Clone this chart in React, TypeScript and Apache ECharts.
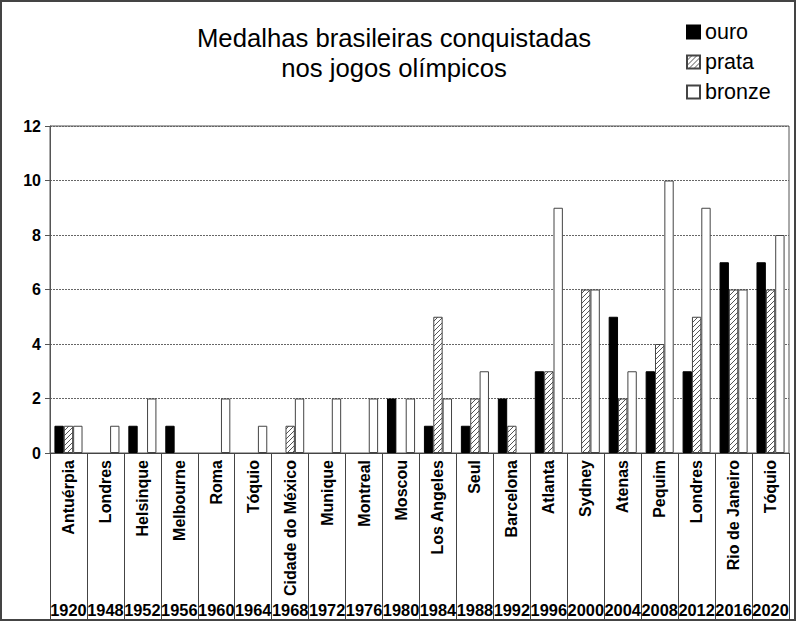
import React, { useEffect, useRef } from 'react';
import * as echarts from 'echarts';

const years = ['1920', '1948', '1952', '1956', '1960', '1964', '1968', '1972', '1976', '1980', '1984', '1988', '1992', '1996', '2000', '2004', '2008', '2012', '2016', '2020'];
const cities = ['Antuérpia', 'Londres', 'Helsinque', 'Melbourne', 'Roma', 'Tóquio', 'Cidade do México', 'Munique', 'Montreal', 'Moscou', 'Los Angeles', 'Seul', 'Barcelona', 'Atlanta', 'Sydney', 'Atenas', 'Pequim', 'Londres', 'Rio de Janeiro', 'Tóquio'];
const ouro = [1, 0, 1, 1, 0, 0, 0, 0, 0, 2, 1, 1, 2, 3, 0, 5, 3, 3, 7, 7];
const prata = [1, 0, 0, 0, 0, 0, 1, 0, 0, 0, 5, 2, 1, 3, 6, 2, 4, 5, 6, 6];
const bronze = [1, 1, 2, 0, 2, 1, 2, 2, 2, 2, 2, 3, 0, 9, 6, 3, 10, 9, 6, 8];
const titleText = 'Medalhas brasileiras conquistadas\nnos jogos olímpicos';

const FONT = "'Liberation Sans', Arial, sans-serif";

// zero-medal entries are not drawn as bars
const visible = (arr: number[]) => arr.map((v) => (v === 0 ? '-' : v));

function makeHatch(): HTMLCanvasElement {
  const c = document.createElement('canvas');
  c.width = 5;
  c.height = 5;
  const ctx = c.getContext('2d')!;
  ctx.fillStyle = '#ffffff';
  ctx.fillRect(0, 0, 5, 5);
  ctx.strokeStyle = '#555555';
  ctx.lineWidth = 1;
  for (const k of [-5, 0, 5]) {
    ctx.beginPath();
    ctx.moveTo(k, 5);
    ctx.lineTo(k + 5, 0);
    ctx.stroke();
  }
  return c;
}

export default function App() {
  const ref = useRef<HTMLDivElement>(null);
  useEffect(() => {
    if (!ref.current) return;
    const chart = echarts.init(ref.current, undefined, { renderer: 'svg' });
    const hatch = makeHatch();
    chart.setOption({
      animation: false,
      backgroundColor: '#ffffff',
      title: {
        text: titleText,
        left: 389,
        top: 18,
        textAlign: 'center',
        textStyle: {
          fontFamily: FONT,
          fontWeight: 'normal',
          fontSize: 25.7,
          lineHeight: 30,
          color: '#000',
        },
      },
      legend: {
        orient: 'vertical',
        left: 686,
        top: 21,
        padding: 0,
        itemWidth: 13,
        itemHeight: 13,
        itemGap: 8,
        icon: 'rect',
        textStyle: { fontFamily: FONT, fontSize: 21.5, color: '#000' },
        data: ['ouro', 'prata', 'bronze'],
      },
      grid: {
        left: 50,
        right: 7,
        top: 126,
        bottom: 169,
        show: true,
        borderColor: '#555',
        borderWidth: 1,
        backgroundColor: 'transparent',
      },
      xAxis: [
        {
          type: 'category',
          data: years,
          boundaryGap: true,
          axisLine: { show: true, lineStyle: { color: '#444', width: 1 } },
          axisTick: { show: true, length: 167, lineStyle: { color: '#444', width: 1 } },
          axisLabel: {
            interval: 0,
            rotate: 90,
            margin: 7,
            fontFamily: FONT,
            fontWeight: 'bold',
            fontSize: 16,
            color: '#000',
            formatter: (_v: string, i: number) => cities[i],
          },
          splitLine: { show: false },
        },
        {
          type: 'category',
          data: years,
          position: 'bottom',
          gridIndex: 0,
          boundaryGap: true,
          axisLine: { show: false },
          axisTick: { show: false },
          axisLabel: {
            interval: 0,
            margin: 149,
            fontFamily: FONT,
            fontWeight: 'bold',
            fontSize: 16.4,
            color: '#000',
          },
        },
      ],
      yAxis: {
        type: 'value',
        min: 0,
        max: 12,
        interval: 2,
        axisLine: { show: true, lineStyle: { color: '#555' } },
        axisTick: { show: true, length: 5, lineStyle: { color: '#555' } },
        axisLabel: {
          margin: 9,
          fontFamily: FONT,
          fontWeight: 'bold',
          fontSize: 16,
          color: '#000',
        },
        splitLine: { show: true, lineStyle: { color: '#666', type: [2, 1], width: 1 } },
      },
      series: [
        {
          name: 'ouro',
          type: 'bar',
          data: visible(ouro),
          barGap: '0%',
          barCategoryGap: '24%',
          itemStyle: { color: '#000', borderColor: '#000', borderWidth: 1 },
        },
        {
          name: 'prata',
          type: 'bar',
          data: visible(prata),
          barGap: '0%',
          barCategoryGap: '24%',
          itemStyle: { color: { image: hatch, repeat: 'repeat' }, borderColor: '#444', borderWidth: 1 },
        },
        {
          name: 'bronze',
          type: 'bar',
          data: visible(bronze),
          barGap: '0%',
          barCategoryGap: '24%',
          itemStyle: { color: '#fff', borderColor: '#444', borderWidth: 1 },
        },
      ],
      graphic: [
        {
          type: 'rect',
          shape: { x: 1, y: 1, width: 794, height: 619 },
          style: { fill: 'none', stroke: '#444', lineWidth: 2 },
          silent: true,
        },
      ],
    });
    return () => chart.dispose();
  }, []);
  return (
    <div
      ref={ref}
      style={{ position: 'fixed', left: 0, top: 0, width: 796, height: 622 }}
    />
  );
}
